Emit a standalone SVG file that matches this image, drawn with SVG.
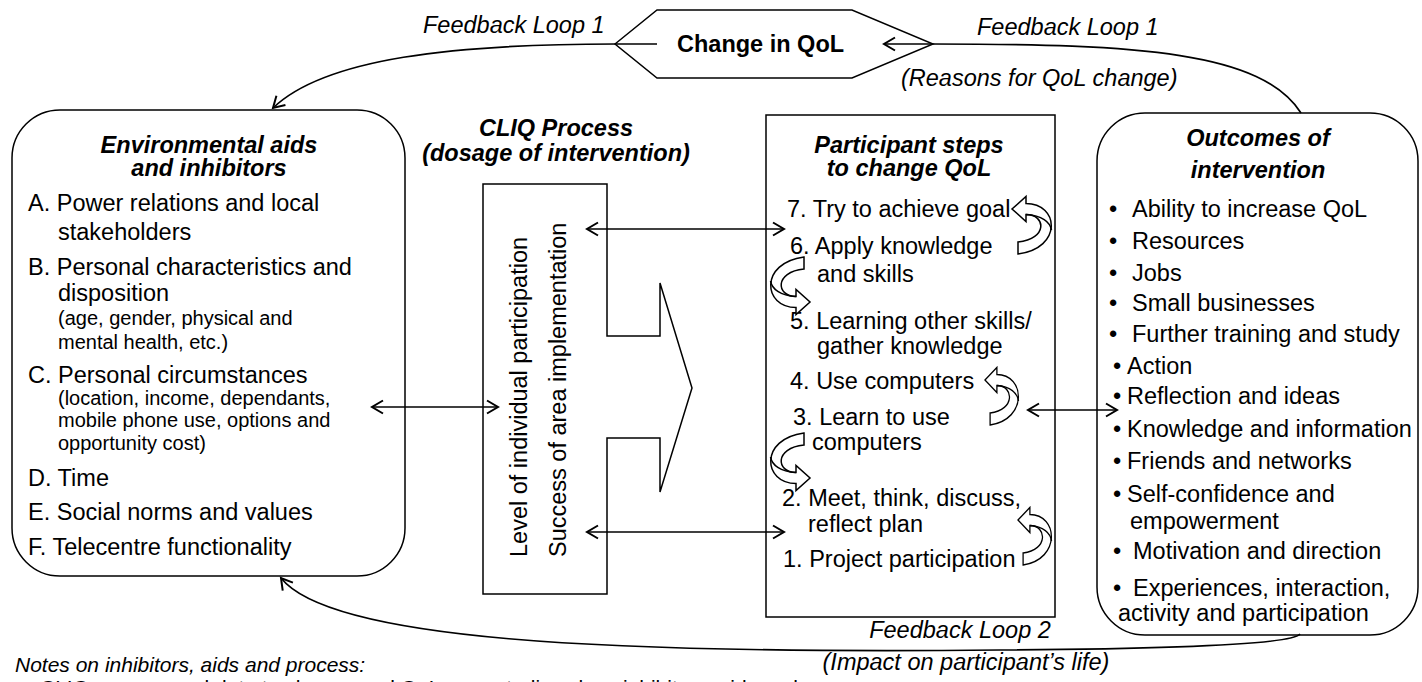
<svg xmlns="http://www.w3.org/2000/svg" width="1422" height="682" viewBox="0 0 1422 682">
<defs>
<marker id="ah" markerUnits="userSpaceOnUse" markerWidth="16" markerHeight="16" refX="13" refY="8" orient="auto-start-reverse" viewBox="0 0 16 16">
<path d="M2,1.5 L13,8 L2,14.5" fill="none" stroke="#000" stroke-width="2"/>
</marker>
<g id="loop">
<path d="M6,45 C51,39 47,-5.5 14,-5.5 L14,-12.5 L0,0 L14,12.5 L14,5.5 C34,5.5 36,30 6,33 Z"/>
<path d="M14,5.5 C30,6.5 38,13 39.5,21" fill="none"/>
</g>
</defs>
<style>
text { font-family: "Liberation Sans", Arial, sans-serif; font-size: 23.5px; fill: #000; }
.t { font-weight: bold; font-style: italic; text-anchor: middle; }
.bn { font-weight: bold; }
.i { font-style: italic; }
.s { font-size: 20px; }
.n { font-size: 21px; font-style: italic; }
.box { fill: #fff; stroke: #000; stroke-width: 1.5; }
.con { fill: none; stroke: #000; stroke-width: 1.7; }
.lp { fill: #fff; stroke: #000; stroke-width: 1.5; }
</style>
<rect width="1422" height="682" fill="#fff"/>

<g id="change-qol">
<polygon class="box" points="615,44 657,10 852,10 933,44 852,78 657,78"/>
<text class="bn" x="677" y="52">Change in QoL</text>
</g>

<g id="environment">
<rect class="box" x="12" y="110" width="393" height="466" rx="48" ry="48"/>
<text class="t" x="209" y="153">Environmental aids</text>
<text class="t" x="209" y="176">and inhibitors</text>
<text x="28" y="211">A. Power relations and local</text>
<text x="58" y="240">stakeholders</text>
<text x="28" y="275">B. Personal characteristics and</text>
<text x="58" y="301">disposition</text>
<text class="s" x="58" y="325">(age, gender, physical and</text>
<text class="s" x="58" y="349">mental health, etc.)</text>
<text x="28" y="383">C. Personal circumstances</text>
<text class="s" x="58" y="405">(location, income, dependants,</text>
<text class="s" x="58" y="427">mobile phone use, options and</text>
<text class="s" x="58" y="450">opportunity cost)</text>
<text x="28" y="486">D. Time</text>
<text x="28" y="520">E. Social norms and values</text>
<text x="28" y="555">F. Telecentre functionality</text>
</g>

<g id="cliq">
<text class="t" x="556" y="136">CLIQ Process</text>
<text class="t" x="556" y="161">(dosage of intervention)</text>
<polygon class="box" points="483,184 607,184 607,336 660,336 660,283 692,388 660,492 660,438 607,438 607,594 483,594"/>
<text transform="translate(527,557) rotate(-90)">Level of individual participation</text>
<text transform="translate(566,557) rotate(-90)">Success of area implementation</text>
</g>

<g id="participant">
<rect class="box" x="766" y="115" width="289" height="502"/>
<text class="t" x="909" y="153">Participant steps</text>
<text class="t" x="909" y="176">to change QoL</text>
<text x="787" y="217">7. Try to achieve goal</text>
<text x="790" y="254">6. Apply knowledge</text>
<text x="817" y="282">and skills</text>
<text x="790" y="329">5. Learning other skills/</text>
<text x="817" y="354">gather knowledge</text>
<text x="790" y="389">4. Use computers</text>
<text x="793" y="425">3. Learn to use</text>
<text x="812" y="450">computers</text>
<text x="782" y="506">2. Meet, think, discuss,</text>
<text x="808" y="532">reflect plan</text>
<text x="783" y="567">1. Project participation</text>
<use class="lp" href="#loop" transform="translate(1012,209)"/>
<use class="lp" href="#loop" transform="translate(810,302) rotate(180)"/>
<use class="lp" href="#loop" transform="translate(985,380) scale(0.85,1)"/>
<use class="lp" href="#loop" transform="translate(810,478) rotate(180)"/>
<use class="lp" href="#loop" transform="translate(1018,520) scale(0.85,1)"/>
</g>

<g id="outcomes">
<rect class="box" x="1097" y="113" width="321" height="522" rx="48" ry="48"/>
<text class="t" x="1258" y="146">Outcomes of</text>
<text class="t" x="1258" y="178">intervention</text>
<text x="1109" y="217">•<tspan x="1132">Ability to increase QoL</tspan></text>
<text x="1109" y="249">•<tspan x="1132">Resources</tspan></text>
<text x="1109" y="281">•<tspan x="1132">Jobs</tspan></text>
<text x="1109" y="311">•<tspan x="1132">Small businesses</tspan></text>
<text x="1109" y="342">•<tspan x="1132">Further training and study</tspan></text>
<text x="1113" y="374">•<tspan x="1127">Action</tspan></text>
<text x="1113" y="404">•<tspan x="1127">Reflection and ideas</tspan></text>
<text x="1113" y="437">•<tspan x="1127">Knowledge and information</tspan></text>
<text x="1113" y="469">•<tspan x="1127">Friends and networks</tspan></text>
<text x="1113" y="502">•<tspan x="1127">Self-confidence and</tspan></text>
<text x="1130" y="529">empowerment</text>
<text x="1113" y="559">•<tspan x="1133">Motivation and direction</tspan></text>
<text x="1113" y="596">•<tspan x="1133">Experiences, interaction,</tspan></text>
<text x="1118" y="621">activity and participation</text>
</g>

<g id="connectors">
<path class="con" d="M657,44 L615,44 C455,44 325,58 273,108" marker-end="url(#ah)"/>
<path class="con" d="M1301,113 C1262,52 1140,44 933,44 L884,44" marker-end="url(#ah)"/>
<path class="con" d="M1300,634 Q1290,648 1000,650 C600,654 330,640 281,578" marker-end="url(#ah)"/>
<line class="con" x1="372" y1="407" x2="498" y2="407" marker-start="url(#ah)" marker-end="url(#ah)"/>
<line class="con" x1="587" y1="229" x2="784" y2="229" marker-start="url(#ah)" marker-end="url(#ah)"/>
<line class="con" x1="587" y1="532" x2="784" y2="532" marker-start="url(#ah)" marker-end="url(#ah)"/>
<line class="con" x1="1028" y1="410" x2="1117" y2="410" marker-start="url(#ah)" marker-end="url(#ah)"/>
</g>

<g id="labels">
<text class="i" x="423" y="33">Feedback Loop 1</text>
<text class="i" x="977" y="35">Feedback Loop 1</text>
<text class="i" x="901" y="86">(Reasons for QoL change)</text>
<text class="i" x="960" y="638" text-anchor="middle">Feedback Loop 2</text>
<text class="i" x="966" y="670" text-anchor="middle">(Impact on participant’s life)</text>
<text class="n" x="15" y="672">Notes on inhibitors, aids and process:</text>
<text style="font-size:21px" x="22" y="695">•<tspan x="40">CLIQ process and data to change and QoL case studies show inhibitors, aids and</tspan></text>
</g>
</svg>
